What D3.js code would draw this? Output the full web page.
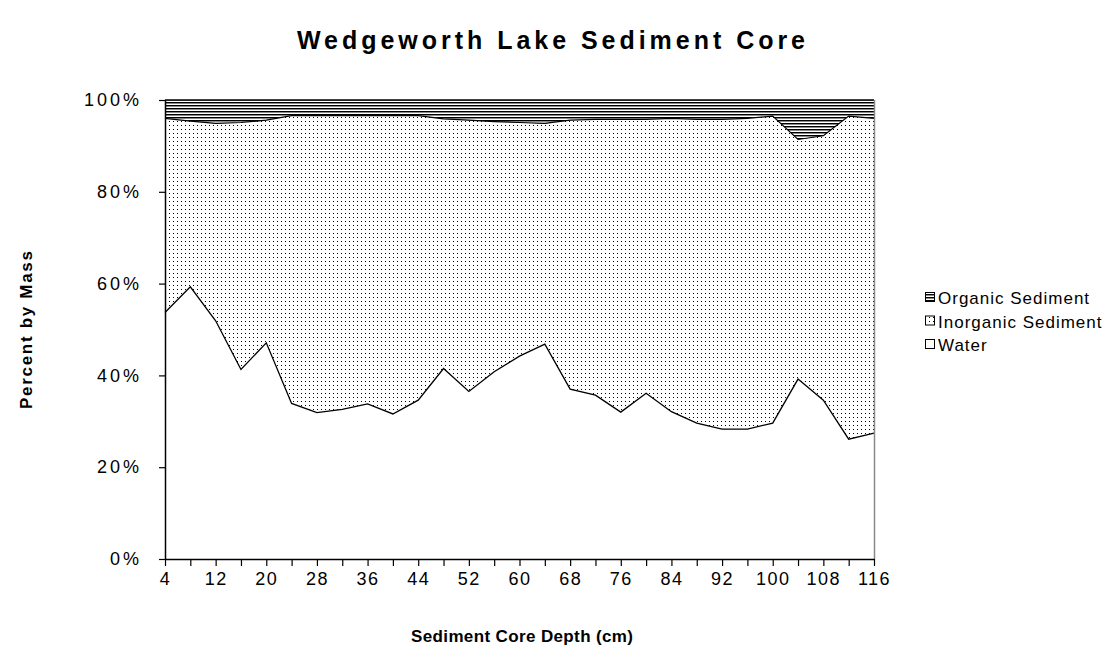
<!DOCTYPE html>
<html>
<head>
<meta charset="utf-8">
<script src="https://cdn.jsdelivr.net/npm/d3@7/dist/d3.min.js"></script>
<style>
  html, body { margin: 0; padding: 0; background: #fff; }
  svg { display: block; }
  text { font-family: "Liberation Sans", Arial, sans-serif; fill: #000; }
</style>
</head>
<body>
<svg id="chart" width="1120" height="661"></svg>
<script>
// ---- Data (percent by mass) ----
const depths = [4, 8, 12, 16, 20, 24, 28, 32, 36, 40, 44, 48, 52, 56, 60, 64, 68, 72, 76, 80, 84, 88, 92, 96, 100, 104, 108, 112, 116];
const water = [53.7, 59.3, 51.9, 41.3, 47.1, 33.9, 31.9, 32.6, 33.8, 31.6, 34.6, 41.5, 36.5, 40.8, 44.2, 46.8, 37.0, 35.7, 32.0, 36.1, 32.1, 29.6, 28.3, 28.3, 29.6, 39.2, 34.6, 26.1, 27.4];
const inorganic = [42.3, 36.1, 43.0, 53.8, 48.5, 62.7, 64.7, 64.0, 62.8, 65.0, 62.0, 54.4, 59.1, 54.5, 50.9, 48.1, 58.6, 60.1, 63.8, 59.7, 63.9, 66.2, 67.5, 67.7, 66.9, 52.2, 57.6, 70.4, 68.6];
const organic = [4.0, 4.6, 5.1, 4.9, 4.4, 3.4, 3.4, 3.4, 3.4, 3.4, 3.4, 4.1, 4.4, 4.7, 4.9, 5.1, 4.4, 4.2, 4.2, 4.2, 4.0, 4.2, 4.2, 4.0, 3.5, 8.6, 7.8, 3.5, 4.0];
const seriesKeys = ["water", "inorganic", "organic"];
const seriesNames = ["Water", "Inorganic Sediment", "Organic Sediment"];
const yTicks = [0, 0.2, 0.4, 0.6, 0.8, 1.0];

const title = "Wedgeworth Lake Sediment Core";
const xTitle = "Sediment Core Depth (cm)";
const yTitle = "Percent by Mass";

// ---- Build table ----
const table = depths.map((d, i) => {
  const tot = water[i] + inorganic[i] + organic[i];
  return { depth: d, water: water[i] / tot, inorganic: inorganic[i] / tot, organic: organic[i] / tot };
});

const svg = d3.select("#chart");
const L = 165, R = 874, T = 100, B = 559;

const x = d3.scalePoint().domain(depths).range([L, R]);
const y = d3.scaleLinear().domain([0, 1]).range([B, T]);

// ---- Patterns ----
const defs = svg.append("defs");
const dots = defs.append("pattern").attr("id", "dots").attr("patternUnits", "userSpaceOnUse")
  .attr("width", 4).attr("height", 4);
dots.append("rect").attr("width", 4).attr("height", 4).attr("fill", "#fff");
dots.append("rect").attr("x", 1).attr("y", 1).attr("width", 1).attr("height", 1).attr("fill", "#000");

const stripes = defs.append("pattern").attr("id", "stripes").attr("patternUnits", "userSpaceOnUse")
  .attr("width", 4).attr("height", 3);
stripes.append("rect").attr("width", 4).attr("height", 3).attr("fill", "#fff");
stripes.append("rect").attr("y", 0).attr("width", 4).attr("height", 1).attr("fill", "#000");
stripes.append("rect").attr("y", 1).attr("width", 4).attr("height", 1).attr("fill", "#8a8a8a");

const fills = { water: "#fff", inorganic: "url(#dots)", organic: "url(#stripes)" };

// ---- Stack & areas ----
const stack = d3.stack().keys(seriesKeys);
const layers = stack(table);
const area = d3.area()
  .x(d => x(d.data.depth))
  .y0(d => y(d[0]))
  .y1(d => y(d[1]));

svg.append("g").selectAll("path").data(layers).join("path")
  .attr("d", area)
  .attr("fill", d => fills[d.key])
  .attr("stroke", "none");

// boundary lines
const line = d3.line().x(d => x(d.data.depth)).y(d => y(d[1]));
svg.append("path").datum(layers[0]).attr("d", line)
  .attr("fill", "none").attr("stroke", "#000").attr("stroke-width", 1.3);
svg.append("path").datum(layers[1]).attr("d", line)
  .attr("fill", "none").attr("stroke", "#000").attr("stroke-width", 1.2);
svg.append("path").datum(layers[2]).attr("d", line)
  .attr("fill", "none").attr("stroke", "#000").attr("stroke-width", 1.5);

// right edge
svg.append("line").attr("x1", R + 0.5).attr("x2", R + 0.5).attr("y1", T).attr("y2", B)
  .attr("stroke", "#8a8a8a").attr("stroke-width", 1.5);

// ---- Axes ----
const yAxis = d3.axisLeft(y).tickValues(yTicks).tickFormat(d3.format(".0%"))
  .tickSize(6).tickSizeOuter(0).tickPadding(17);
const gy = svg.append("g").attr("transform", `translate(${L},0)`).call(yAxis);
gy.select(".domain").attr("stroke", "#000").attr("stroke-width", 1.5);
gy.selectAll(".tick line").attr("stroke", "#000").attr("stroke-width", 1.2);
gy.selectAll(".tick text").attr("font-size", 18).attr("letter-spacing", "3px")
  .attr("font-family", "'Liberation Sans', Arial, sans-serif").attr("fill", "#000");

const xAxis = d3.axisBottom(x).tickValues(depths)
  .tickFormat((d, i) => (i % 2 === 0 ? d : ""))
  .tickSize(7).tickSizeOuter(0).tickPadding(6);
const gx = svg.append("g").attr("transform", `translate(0,${B})`).call(xAxis);
gx.select(".domain").attr("stroke", "#000").attr("stroke-width", 1.5);
gx.selectAll(".tick line").attr("stroke", "#000").attr("stroke-width", 1.2);
gx.selectAll(".tick text").attr("font-size", 18).attr("letter-spacing", "1.5px")
  .attr("font-family", "'Liberation Sans', Arial, sans-serif").attr("fill", "#000");

// ---- Titles ----
svg.append("text").attr("x", 551).attr("y", 49).attr("text-anchor", "middle")
  .attr("font-size", 25).attr("font-weight", "bold")
  .attr("textLength", 508).attr("lengthAdjust", "spacing").text(title);

svg.append("text").attr("x", 522).attr("y", 642).attr("text-anchor", "middle")
  .attr("font-size", 17).attr("font-weight", "bold")
  .attr("textLength", 222).attr("lengthAdjust", "spacing").text(xTitle);

svg.append("text").attr("transform", "translate(32,330) rotate(-90)").attr("text-anchor", "middle")
  .attr("font-size", 17).attr("font-weight", "bold")
  .attr("textLength", 158).attr("lengthAdjust", "spacing").text(yTitle);

// ---- Legend ----
const legendOrder = [2, 1, 0];
const lg = svg.append("g");
legendOrder.forEach((si, row) => {
  const cy = 298 + row * 23.5;
  lg.append("rect").attr("x", 925.5).attr("y", cy - 5.5).attr("width", 9).attr("height", 9)
    .attr("fill", fills[seriesKeys[si]]).attr("stroke", "#000").attr("stroke-width", 1);
  lg.append("text").attr("x", 938).attr("y", cy + 6).attr("font-size", 17)
    .attr("letter-spacing", "1px").text(seriesNames[si]);
});
</script>
</body>
</html>
